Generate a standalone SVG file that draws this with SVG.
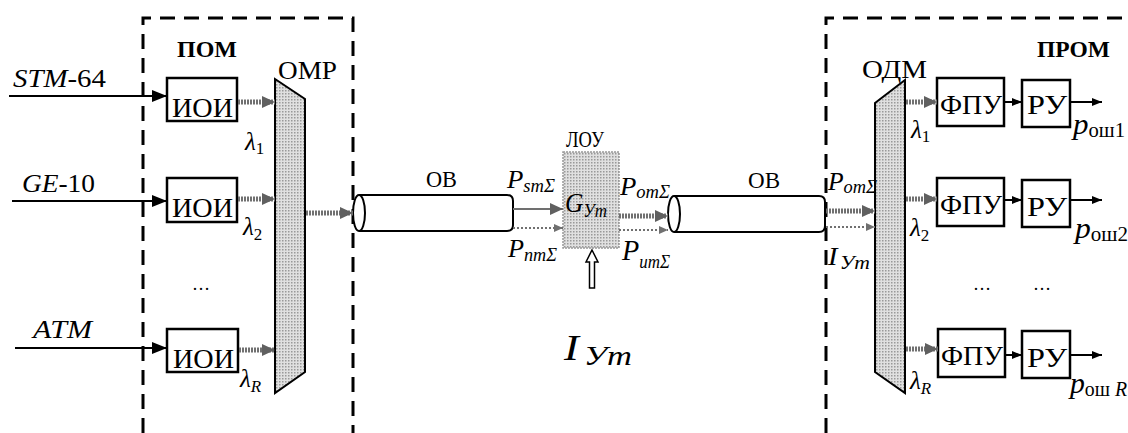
<svg xmlns="http://www.w3.org/2000/svg" width="1128" height="433" viewBox="0 0 1128 433" font-family="'Liberation Serif', 'DejaVu Serif', serif">
<style>
text{font-family:'Liberation Serif','DejaVu Serif',serif;fill:#000}
.it{font-style:italic}
.b{font-weight:bold}
.box{fill:#fff;stroke:#000;stroke-width:2.5}
.dash{fill:none;stroke:#000;stroke-width:3;stroke-dasharray:15 9}
.blk{stroke:#000;stroke-width:2;fill:none}
.gry{stroke:#707070;stroke-width:5;stroke-dasharray:2 1;fill:none}
.dot{stroke:#707070;stroke-width:2;stroke-dasharray:2 2;fill:none}
.cyl{fill:#fff;stroke:#000;stroke-width:2}
.mux{fill:url(#dots);stroke:#000;stroke-width:2}
</style>
<defs>
<pattern id="dots" width="3" height="3" patternUnits="userSpaceOnUse"><rect width="3" height="3" fill="#e0e0e0"/><rect width="1.5" height="1.5" fill="#999"/></pattern>
<marker id="mB" markerUnits="userSpaceOnUse" markerWidth="15" markerHeight="12" refX="15" refY="6" orient="auto"><path d="M0,0 L15,6 L0,12 z" fill="#000"/></marker>
<marker id="mBs" markerUnits="userSpaceOnUse" markerWidth="10" markerHeight="8" refX="10" refY="4" orient="auto"><path d="M0,0 L10,4 L0,8 z" fill="#000"/></marker>
<marker id="mG" markerUnits="userSpaceOnUse" markerWidth="13" markerHeight="12" refX="13" refY="6" orient="auto"><path d="M0,0 L13,6 L0,12 z" fill="#606060"/></marker>
<marker id="mGs" markerUnits="userSpaceOnUse" markerWidth="9" markerHeight="8" refX="9" refY="4" orient="auto"><path d="M0,0 L9,4 L0,8 z" fill="#707070"/></marker>
</defs>

<g id="transmitter-frame">
<path class="dash" d="M143,433 V18 H353 V433"/>
<text class="b" x="177" y="57" font-size="23" textLength="60" lengthAdjust="spacingAndGlyphs">ПОМ</text>
</g>
<g id="receiver-frame">
<path class="dash" d="M826,433 V18 H1128"/>
<text class="b" x="1037" y="57" font-size="23" textLength="73" lengthAdjust="spacingAndGlyphs">ПРОМ</text>
</g>

<g id="inputs-labels">
<text x="13" y="87" font-size="26" textLength="93" lengthAdjust="spacingAndGlyphs"><tspan class="it">STM</tspan>-64</text>
<text x="22" y="192" font-size="26" textLength="73" lengthAdjust="spacingAndGlyphs"><tspan class="it">GE</tspan>-10</text>
<text class="it" x="33" y="338" font-size="26" textLength="59" lengthAdjust="spacingAndGlyphs">ATM</text>
<text x="192" y="290" font-size="18">…</text>
</g>

<g id="ioi1"><rect class="box" x="167" y="78" width="70" height="43"/><text x="172" y="117" font-size="28" textLength="61" lengthAdjust="spacingAndGlyphs">ИОИ</text></g>
<g id="ioi2"><rect class="box" x="167" y="178" width="70" height="44"/><text x="172" y="217" font-size="28" textLength="61" lengthAdjust="spacingAndGlyphs">ИОИ</text></g>
<g id="ioi3"><rect class="box" x="167" y="329" width="71" height="43"/><text x="173" y="368" font-size="28" textLength="61" lengthAdjust="spacingAndGlyphs">ИОИ</text></g>

<g id="omp">
<path class="mux" d="M275,79 L305,99 L305,372 L275,393 z"/>
<text x="278" y="79" font-size="26" textLength="59" lengthAdjust="spacingAndGlyphs">ОМР</text>
</g>

<g id="fiber1">
<path class="cyl" d="M359,195 H507 Q513,195 513,201 V225 Q513,231 507,231 H359"/>
<ellipse class="cyl" cx="359" cy="213" rx="6" ry="18"/>
<text x="426" y="187" font-size="24" textLength="31" lengthAdjust="spacingAndGlyphs">ОВ</text>
</g>

<g id="lou">
<text x="566" y="147" font-size="23" textLength="38" lengthAdjust="spacingAndGlyphs">ЛОУ</text>
<rect x="563" y="152" width="56" height="96" fill="url(#dots)" stroke="#999" stroke-width="1.5" stroke-dasharray="2 1"/>
<text class="it" x="565" y="212" font-size="27" textLength="42" lengthAdjust="spacingAndGlyphs">G<tspan font-size="18" dy="5">Уm</tspan></text>
<path d="M592,250 L598,262 L594.5,262 L594.5,288 L589.5,288 L589.5,262 L586,262 z" fill="#fff" stroke="#000" stroke-width="1.5"/>
<text class="it" x="564" y="360" font-size="36" textLength="68" lengthAdjust="spacingAndGlyphs">I<tspan font-size="28" dy="5" dx="4">Уm</tspan></text>
</g>

<g id="fiber2">
<path class="cyl" d="M674,196 H819 Q825,196 825,202 V226 Q825,232 819,232 H674"/>
<ellipse class="cyl" cx="674" cy="214" rx="6" ry="18"/>
<text x="748" y="188" font-size="24" textLength="32" lengthAdjust="spacingAndGlyphs">ОВ</text>
</g>

<g id="odm">
<path class="mux" d="M875,103 L905,80 L905,393 L875,372 z"/>
<text x="862" y="78" font-size="26" textLength="65" lengthAdjust="spacingAndGlyphs">ОДМ</text>
</g>

<g id="fpu1"><rect class="box" x="937" y="78" width="67" height="48"/><text x="940" y="114" font-size="28" textLength="62" lengthAdjust="spacingAndGlyphs">ФПУ</text></g>
<g id="ru1"><rect class="box" x="1022" y="80" width="48" height="47"/><text x="1027" y="114" font-size="28" textLength="40" lengthAdjust="spacingAndGlyphs">РУ</text></g>
<g id="fpu2"><rect class="box" x="937" y="178" width="67" height="48"/><text x="940" y="214" font-size="28" textLength="62" lengthAdjust="spacingAndGlyphs">ФПУ</text></g>
<g id="ru2"><rect class="box" x="1022" y="180" width="48" height="47"/><text x="1027" y="216" font-size="28" textLength="40" lengthAdjust="spacingAndGlyphs">РУ</text></g>
<g id="fpu3"><rect class="box" x="938" y="329" width="67" height="48"/><text x="941" y="365" font-size="28" textLength="62" lengthAdjust="spacingAndGlyphs">ФПУ</text></g>
<g id="ru3"><rect class="box" x="1022" y="331" width="48" height="47"/><text x="1027" y="367" font-size="28" textLength="40" lengthAdjust="spacingAndGlyphs">РУ</text></g>

<g id="signal-labels">
<text class="it" x="245" y="150" font-size="25">λ<tspan font-size="17" dy="4" font-style="normal">1</tspan></text>
<text class="it" x="243" y="235" font-size="25">λ<tspan font-size="17" dy="5" font-style="normal">2</tspan></text>
<text class="it" x="240" y="387" font-size="25">λ<tspan font-size="17" dy="5">R</tspan></text>
<text class="it" x="507" y="188" font-size="26" textLength="48" lengthAdjust="spacingAndGlyphs">P<tspan font-size="18" dy="4">smΣ</tspan></text>
<text class="it" x="508" y="257" font-size="26" textLength="49" lengthAdjust="spacingAndGlyphs">P<tspan font-size="18" dy="4">nmΣ</tspan></text>
<text class="it" x="620" y="195" font-size="26" textLength="50" lengthAdjust="spacingAndGlyphs">P<tspan font-size="18" dy="3">omΣ</tspan></text>
<text class="it" x="622" y="260" font-size="30" textLength="48" lengthAdjust="spacingAndGlyphs">P<tspan font-size="18" dy="8">umΣ</tspan></text>
<text class="it" x="828" y="190" font-size="25" textLength="49" lengthAdjust="spacingAndGlyphs">P<tspan font-size="18" dy="3">omΣ</tspan></text>
<text class="it" x="828" y="265" font-size="25" textLength="42" lengthAdjust="spacingAndGlyphs">I<tspan font-size="19" dy="4" dx="2">Уm</tspan></text>
<text class="it" x="911" y="138" font-size="25">λ<tspan font-size="17" dy="4" font-style="normal">1</tspan></text>
<text class="it" x="910" y="236" font-size="25">λ<tspan font-size="17" dy="5" font-style="normal">2</tspan></text>
<text class="it" x="910" y="389" font-size="25">λ<tspan font-size="17" dy="5">R</tspan></text>
<text class="it" x="1073" y="134" font-size="30" textLength="52" lengthAdjust="spacingAndGlyphs">p<tspan font-size="20" font-style="normal" dy="3">ош1</tspan></text>
<text class="it" x="1075" y="238" font-size="30" textLength="53" lengthAdjust="spacingAndGlyphs">p<tspan font-size="20" font-style="normal" dy="3">ош2</tspan></text>
<text class="it" x="1070" y="393" font-size="30" textLength="57" lengthAdjust="spacingAndGlyphs">p<tspan font-size="20" font-style="normal" dy="3">ош </tspan><tspan font-size="20">R</tspan></text>
<text x="973" y="290" font-size="18">…</text>
<text x="1033" y="290" font-size="18">…</text>
</g>

<g id="connectors">
<line class="blk" x1="9" y1="96" x2="167" y2="96" marker-end="url(#mB)"/>
<line class="blk" x1="12" y1="201" x2="167" y2="201" marker-end="url(#mB)"/>
<line class="blk" x1="15" y1="348" x2="167" y2="348" marker-end="url(#mB)"/>
<line class="gry" x1="238" y1="102" x2="275" y2="102" marker-end="url(#mG)"/>
<line class="gry" x1="238" y1="199" x2="275" y2="199" marker-end="url(#mG)"/>
<line class="gry" x1="239" y1="350" x2="275" y2="350" marker-end="url(#mG)"/>
<line class="gry" x1="306" y1="213" x2="353" y2="213" stroke-width="3" marker-end="url(#mG)"/>
<line x1="513" y1="209" x2="563" y2="209" stroke="#707070" stroke-width="2" marker-end="url(#mG)"/>
<line class="dot" x1="513" y1="228" x2="563" y2="228" marker-end="url(#mGs)"/>
<line class="gry" x1="619" y1="216" x2="668" y2="216" stroke-width="6" marker-end="url(#mG)"/>
<line class="dot" x1="619" y1="230" x2="668" y2="230" stroke-dasharray="4 2" marker-end="url(#mGs)"/>
<line class="gry" x1="826" y1="211" x2="875" y2="211" marker-end="url(#mG)"/>
<line class="dot" x1="826" y1="227" x2="875" y2="227" marker-end="url(#mGs)"/>
<line class="gry" x1="906" y1="102" x2="937" y2="102" marker-end="url(#mG)"/>
<line class="gry" x1="906" y1="199" x2="937" y2="199" marker-end="url(#mG)"/>
<line class="gry" x1="906" y1="349" x2="938" y2="349" marker-end="url(#mG)"/>
<line class="blk" x1="1004" y1="102" x2="1022" y2="102" marker-end="url(#mBs)"/>
<line class="blk" x1="1004" y1="200" x2="1022" y2="200" marker-end="url(#mBs)"/>
<line class="blk" x1="1005" y1="355" x2="1022" y2="355" marker-end="url(#mBs)"/>
<line class="blk" x1="1070" y1="102" x2="1102" y2="102" marker-end="url(#mBs)"/>
<line class="blk" x1="1070" y1="200" x2="1102" y2="200" marker-end="url(#mBs)"/>
<line class="blk" x1="1070" y1="355" x2="1102" y2="355" marker-end="url(#mBs)"/>
</g>
</svg>
